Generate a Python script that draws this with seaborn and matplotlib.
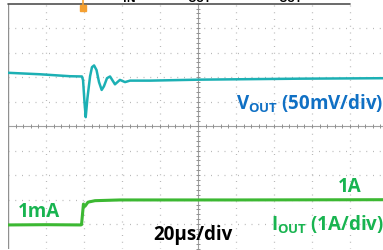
import numpy as np
import pandas as pd
import matplotlib
matplotlib.use("Agg")
import matplotlib.pyplot as plt
import seaborn as sns

# scope screen: 20us/div horizontally, values in divisions vertically
vout_t = [0, 16.8, 32.6, 38.9, 39.5, 40.3, 40.9, 41.8, 43.2, 44.2, 45.3, 46.6, 47.9,
          49.3, 50.5, 52.1, 53.7, 56.3, 58.9, 61.6, 64.2, 74.7, 101, 153.7, 200]
vout_div = [2.18, 2.12, 2.04, 2.03, 1.88, 0.94, 0.37, 1.14, 2.04, 2.41, 2.48, 2.29, 1.80,
            1.48, 1.63, 1.96, 2.03, 1.71, 1.89, 1.80, 1.86, 1.86, 1.90, 1.94, 1.96]

iout_t = [0, 20, 38.2, 38.7, 39.7, 40.5, 42.1, 45.8, 58.9, 120, 200]
iout_div = [-4.03, -4.02, -4.03, -4.02, -3.18, -3.27, -3.10, -3.04, -3.01, -3.01, -3.00]

vout_color = "#1cb0b4"
iout_color = "#3cb832"
vlabel_color = "#1070c4"
ilabel_color = "#18b450"

sns.set_style("white")
plt.rcParams["font.family"] = ["Open Sans", "DejaVu Sans"]
plt.rcParams["mathtext.fontset"] = "custom"
plt.rcParams["mathtext.rm"] = "Open Sans"
plt.rcParams["mathtext.bf"] = "Open Sans:bold"

fig = plt.figure(figsize=(3.83, 2.51), dpi=100)
W, H = 383, 251
ax = fig.add_axes([8 / W, (H - 249.7) / H, 380 / W, 245 / H])
ax.set_xlim(0, 200)
ax.set_ylim(-5, 5)
ax.axis("off")

# graticule
grid_kw = dict(color="#b8b8b8", lw=0.9, linestyle=(0, (0.8, 4.6)), zorder=0)
for xv in np.arange(20, 200, 20):
    if xv != 100:
        ax.axvline(xv, **grid_kw)
for yv in np.arange(-4, 5, 1):
    if yv != 0:
        ax.axhline(yv, **grid_kw)
ax.axvline(100, color="#a0a0a0", lw=0.8, zorder=0)
ax.axhline(0, color="#a0a0a0", lw=0.8, zorder=0)
tx = np.arange(0, 200.1, 4)
ax.plot(tx, np.zeros_like(tx), "|", color="#909090", ms=3, mew=0.7, zorder=0)
ty = np.arange(-5, 5.01, 0.2)
ax.plot(np.full_like(ty, 100), ty, "_", color="#909090", ms=3, mew=0.7, zorder=0)
ax.axvline(0, color="#909090", lw=1.0, zorder=0)
ax.plot([0, 180], [5, 5], color="#505050", lw=1.2, zorder=0, clip_on=False)

df_v = pd.DataFrame({"t": vout_t, "v": vout_div})
df_i = pd.DataFrame({"t": iout_t, "v": iout_div})
sns.lineplot(data=df_v, x="t", y="v", ax=ax, color=vout_color, lw=1.8, zorder=3)
sns.lineplot(data=df_i, x="t", y="v", ax=ax, color=iout_color, lw=2.2, zorder=3)

# trigger marker
ax.plot([39.3, 39.3], [4.84, 5.2], color="#f5a030", lw=1.2, clip_on=False, zorder=4)
ax.plot([39.3], [4.84], "s", color="#f5a030", ms=4.5, clip_on=False, zorder=4)

fs = 13.5
ax.text(197.8, 0.95, r"$\mathbf{V}_{\mathbf{OUT}}$ (50mV/div)", color=vlabel_color,
        fontsize=fs, fontweight="bold", ha="right", va="center")
ax.text(5.4, -3.47, "1mA", color=ilabel_color, fontsize=fs, fontweight="bold",
        ha="left", va="center")
ax.text(76.3, -4.40, "20µs/div", color="black", fontsize=fs, fontweight="bold",
        ha="left", va="center")
ax.text(173.7, -2.46, "1A", color=ilabel_color, fontsize=fs, fontweight="bold",
        ha="left", va="center")
ax.text(197.8, -3.97, r"$\mathbf{I}_{\mathbf{OUT}}$ (1A/div)", color=ilabel_color,
        fontsize=fs, fontweight="bold", ha="right", va="center")

# caption above the screen, cut off at the top
for px, s in [(129, "IN"), (199, "OUT"), (290, "OUT")]:
    fig.text(px / W, 1 - 2 / H, s, fontsize=8, fontweight="bold", ha="center",
             va="baseline", color="black")

fig.savefig("out.png", dpi=100)
